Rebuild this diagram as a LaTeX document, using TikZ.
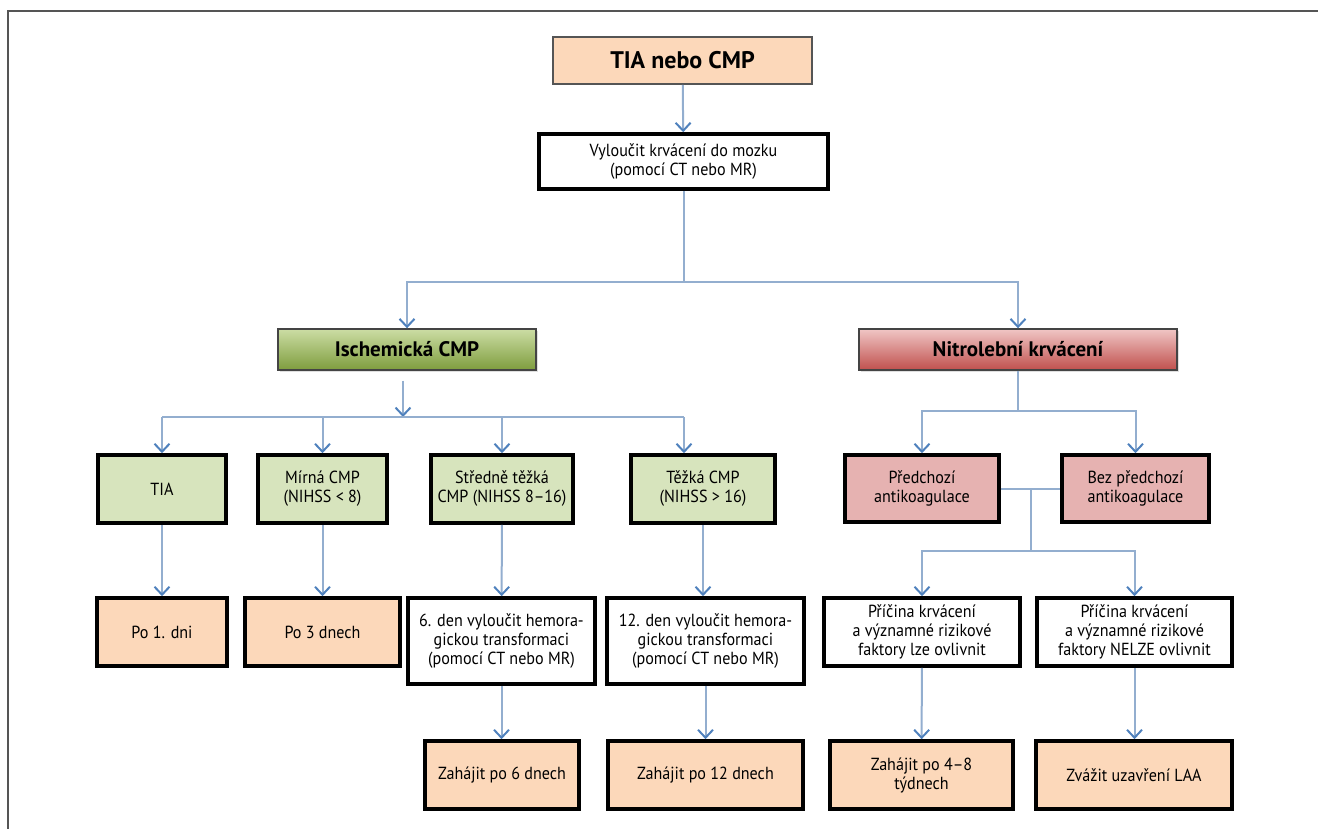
\documentclass[tikz,border=0pt]{standalone}
\usepackage{fontspec}
\setmainfont{PT Sans}
\newfontfamily\bodyfont{PT Sans}[FakeStretch=0.92]
\usetikzlibrary{arrows.meta}
\usetikzlibrary{shadows}

\definecolor{peach}{HTML}{FCD8BA}
\definecolor{olivelt}{HTML}{D7E4BD}
\definecolor{olivetop}{HTML}{CCDDA4}
\definecolor{olivebot}{HTML}{7E9D3E}
\definecolor{pinklt}{HTML}{E6B2B1}
\definecolor{redtop}{HTML}{F0C6C5}
\definecolor{redbot}{HTML}{C0504D}
\definecolor{linkblue}{HTML}{93AECF}
\definecolor{tipblue}{HTML}{4F81BD}
\definecolor{framegray}{HTML}{555555}

\begin{document}
\begin{tikzpicture}[x=1pt,y=-1pt,
size/.style 2 args={minimum width=#1,minimum height=#2},
base/.style={align=center, inner sep=0pt, font=\bodyfont\fontsize{17.5}{19}\selectfont},
topbox/.style={base, draw=framegray, line width=1.6pt, fill=peach, font=\normalfont\bfseries\fontsize{24}{28}\selectfont},
headbox/.style={base, draw=framegray!80!black, line width=1.4pt, font=\normalfont\bfseries\fontsize{21}{24}\selectfont,
  drop shadow={opacity=0.25, shadow xshift=2pt, shadow yshift=-2pt}},
greenhead/.style={headbox, top color=olivetop, bottom color=olivebot},
redhead/.style={headbox, top color=redtop, bottom color=redbot},
plainbox/.style={base, draw=black, line width=3.6pt, fill=white},
greenbox/.style={plainbox, fill=olivelt},
redbox/.style={plainbox, fill=pinklt},
endbox/.style={plainbox, fill=peach},
link/.style={draw=linkblue, line width=2pt},
arr/.style={link, -{Straight Barb[length=8pt,width=15pt,line width=2pt,color=tipblue]}}]

\useasboundingbox (0,0) rectangle (1318,829);
\draw[framegray, line width=1.6pt] (8,829) -- (8,11) -- (1318,11);

\node[topbox, size={259pt}{47pt}] (start) at (682.5,60.5) {TIA nebo CMP};
\node[plainbox, size={289pt}{55pt}] (exclude) at (683.5,161.5) {Vyloučit krvácení do mozku\\(pomocí CT nebo MR)};

\node[greenhead, size={258pt}{41pt}] (isch) at (407,349.5) {Ischemická CMP};
\node[redhead, size={318pt}{41pt}] (bleed) at (1018,349.5) {Nitrolební krvácení};

\node[greenbox, size={128pt}{68pt}] (tia) at (162,489) {TIA};
\node[greenbox, size={129pt}{68pt}] (mild) at (322.5,489) {Mírná CMP\\(NIHSS < 8)};
\node[greenbox, size={142pt}{68pt}] (medium) at (502,489) {Středně těžká\\CMP (NIHSS 8–16)};
\node[greenbox, size={144pt}{68pt}] (severe) at (703,489) {Těžká CMP\\(NIHSS > 16)};
\node[redbox, size={154pt}{67pt}] (prior) at (922,488.5) {Předchozí\\antikoagulace};
\node[redbox, size={147pt}{67pt}] (noprior) at (1135.5,488.5) {Bez předchozí\\antikoagulace};

\node[endbox, size={130pt}{68pt}] (day1) at (162,632) {Po 1. dni};
\node[endbox, size={155pt}{68pt}] (day3) at (322.5,632) {Po 3 dnech};
\node[plainbox, size={187pt}{86pt}] (ct6) at (501.5,641) {6. den vyloučit hemora-\\gickou transformaci\\(pomocí CT nebo MR)};
\node[plainbox, size={197pt}{86pt}] (ct12) at (705.5,641) {12. den vyloučit hemora-\\gickou transformaci\\(pomocí CT nebo MR)};
\node[plainbox, size={196pt}{68pt}] (canfix) at (922,632) {Příčina krvácení\\a významné rizikové\\faktory lze ovlivnit};
\node[plainbox, size={195pt}{68pt}] (cannotfix) at (1134.5,632) {Příčina krvácení\\a významné rizikové\\faktory NELZE ovlivnit};

\node[endbox, size={154pt}{68pt}] (start6) at (502,775) {Zahájit po 6 dnech};
\node[endbox, size={195pt}{68pt}] (start12) at (705.5,775) {Zahájit po 12 dnech};
\node[endbox, size={183pt}{68pt}] (startwk) at (921.5,775) {Zahájit po 4–8\\týdnech};
\node[endbox, size={196pt}{68pt}] (laa) at (1134,775) {Zvážit uzavření LAA};

\coordinate (split1) at (683.5,282);
\coordinate (split2) at (403,417);
\coordinate (split3) at (1018,411);
\coordinate (split4) at (1031,551);

\draw[arr] (start) -- (exclude);
\draw[link] (exclude) -- (split1);
\draw[arr] (split1) -| (isch);
\draw[arr] (split1) -| (bleed);

\draw[arr] ([xshift=-4pt,yshift=-10pt]isch.south) -- (split2);
\draw[link] (tia.north |- split2) -- ([xshift=-19pt]severe.north |- split2);
\draw[arr] (tia.north |- split2) -- (tia);
\draw[arr] (mild.north |- split2) -- (mild);
\draw[arr] (medium.north |- split2) -- (medium);
\draw[arr] ([xshift=-19pt]severe.north |- split2) -- ([xshift=-19pt]severe.north);

\draw[link] (bleed) -- (split3);
\draw[arr] (split3) -| (prior);
\draw[arr] (split3) -| (noprior);
\draw[link] (prior) -- (noprior);
\draw[link] (prior.east -| split4) -- (split4);
\draw[arr] (split4) -| (canfix);
\draw[arr] (split4) -| (cannotfix);

\draw[arr] (tia) -- (day1);
\draw[arr] (mild) -- (day3);
\draw[arr] (medium) -- (ct6);
\draw[arr] (severe) -- (severe.south |- ct12.north);
\draw[arr] (ct6) -- (ct6.south |- start6.north);
\draw[arr] (ct12) -- (start12);
\draw[arr] (canfix) -- (startwk);
\draw[arr] (cannotfix) -- (cannotfix.south |- laa.north);
\end{tikzpicture}
\end{document}
